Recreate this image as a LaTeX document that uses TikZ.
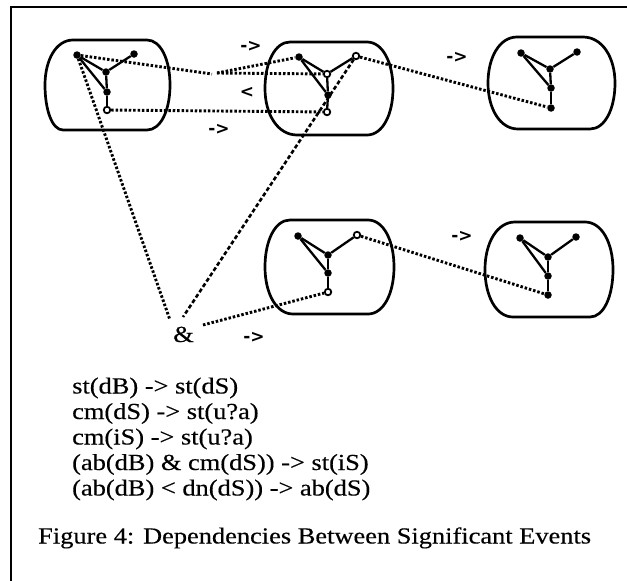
\documentclass[tikz,border=0pt]{standalone}
\usepackage{fontspec}
\setmainfont{Liberation Serif}[FakeBold=0.3]
\newfontfamily\labfont{DejaVu Sans}
\newcommand\wide[1]{\scalebox{1.148}[1]{#1}}
\newcommand\barrel[8]{%
 \pgfmathsetmacro\barrelmid{(#3+#4)/2}%
 \draw[outline] (#5,#3) -- (#6,#3)
   .. controls ({#6+0.6*(#2-#6)},#3) and (#2,{#3+0.22*(#4-#3)}) .. (#2,\barrelmid)
   .. controls (#2,{#4-0.22*(#4-#3)}) and ({#8+0.6*(#2-#8)},#4) .. (#8,#4)
   -- (#7,#4)
   .. controls ({#7-0.6*(#7-#1)},#4) and (#1,{#4-0.22*(#4-#3)}) .. (#1,\barrelmid)
   .. controls (#1,{#3+0.22*(#4-#3)}) and ({#5-0.6*(#5-#1)},#3) .. (#5,#3) -- cycle;}
\begin{document}
\begin{tikzpicture}[x=1pt,y=-1pt,
  outline/.style={line width=2.7pt, line join=round},
  edge/.style={line width=2.3pt},
  fdot/.style={circle, fill=black, inner sep=0pt, minimum size=7.5pt},
  odot/.style={circle, draw=black, fill=white, line width=1.8pt, inner sep=0pt, minimum size=6.5pt},
  dotline/.style={line width=2.9pt, dash pattern=on 2.5pt off 1.9pt},
  dashline/.style={line width=2.6pt, dash pattern=on 4pt off 2.4pt},
  rel/.style={font=\labfont\bfseries\fontsize{17}{17}\selectfont, inner sep=0pt},
  txt/.style={font=\fontsize{23}{25}\selectfont, inner sep=0pt, anchor=base west}
]
\useasboundingbox (0,0) rectangle (627,581);
% frame
\draw[line width=2.4pt] (11,581) -- (11,7) -- (627,7);
% barrels
\barrel{45}{170}{40}{130}{73}{147}{63}{147}
\barrel{265}{393}{42}{135}{290}{367}{297}{367}
\barrel{488}{615}{37}{129}{517}{583}{518}{590}
\barrel{265}{394}{220}{314}{290}{368}{293}{368}
\barrel{485}{613}{222}{317}{515}{585}{513}{590}
% node 1
\node[fdot] (n1a) at (77,55) {};
\node[fdot] (n1b) at (134,54) {};
\node[fdot] (n1c) at (106,72) {};
\node[fdot] (n1d) at (107,92) {};
\node[odot] (n1e) at (107,110) {};
% node 2
\node[fdot] (n2a) at (299,57) {};
\node[odot] (n2b) at (356,56) {};
\node[odot] (n2c) at (327,74) {};
\node[fdot] (n2d) at (328,95) {};
\node[odot] (n2e) at (327,112) {};
% node 3
\node[fdot] (n3a) at (521,53) {};
\node[fdot] (n3b) at (577,52) {};
\node[fdot] (n3c) at (550,69) {};
\node[fdot] (n3d) at (551,88) {};
\node[fdot] (n3e) at (551,108) {};
% node 4
\node[fdot] (n4a) at (298,236) {};
\node[odot] (n4b) at (357,235) {};
\node[fdot] (n4c) at (328,255) {};
\node[fdot] (n4d) at (328,273) {};
\node[odot] (n4e) at (328,292) {};
% node 5
\node[fdot] (n5a) at (520,238) {};
\node[fdot] (n5b) at (576,237) {};
\node[fdot] (n5c) at (548,257) {};
\node[fdot] (n5d) at (548,276) {};
\node[fdot] (n5e) at (548,295) {};
% inner edges
\foreach \g in {1,2,3,4,5}{
  \draw[edge] (n\g a) -- (n\g c);
  \draw[edge] (n\g c) -- (n\g b);
  \draw[edge] (n\g a) -- (n\g d);
  \draw[edge] (n\g c) -- (n\g d);
  \draw[edge] (n\g d) -- (n\g e);
}
% ampersand
\node[txt] (amp) at (173,342) {\wide{\&}};
\coordinate (ampL) at (170,320);
\coordinate (ampT) at (183,317);
\coordinate (ampR) at (203,325);
% dependency lines
\coordinate (m1) at (212,74);
\coordinate (m2) at (217,73);
\draw[dotline] (n1a) -- (m1);
\draw[dotline] (m2) -- (n2a);
\draw[dotline] (m2) -- (n2c);
\draw[dotline] (n1e) -- (n2e);
\draw[dotline] (n2b) -- (n3e);
\draw[dotline] (n1a) -- (ampL);
\draw[dashline] (n2b) -- (ampT);
\draw[dotline] (ampR) -- (n4e);
\draw[dotline] (n4b) -- (n5e);
% relation labels
\node[rel] (r1) at (251,46) {->};
\node[rel] (r2) at (247,92) {<};
\node[rel] (r3) at (219,129) {->};
\node[rel] (r4) at (457,57) {->};
\node[rel] (r5) at (462,236) {->};
\node[rel] (r6) at (254,337) {->};
% text
\node[txt] (t1) at (72,393.5) {\wide{st(dB) -> st(dS)}};
\node[txt] (t2) at (72,419) {\wide{cm(dS) -> st(u?a)}};
\node[txt] (t3) at (72,444.5) {\wide{cm(iS) -> st(u?a)}};
\node[txt] (t4) at (72,470) {\wide{(ab(dB) \& cm(dS)) -> st(iS)}};
\node[txt] (t5) at (72,495.5) {\wide{(ab(dB) < dn(dS)) -> ab(dS)}};
\node[txt] (cap) at (38,543.5) {\wide{Figure 4: Dependencies Between Significant Events}};
\end{tikzpicture}
\end{document}
